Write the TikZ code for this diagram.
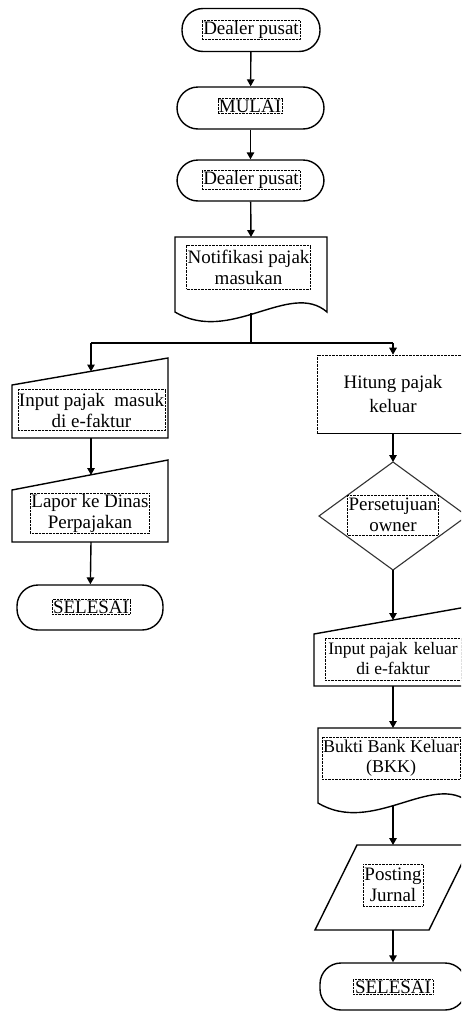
\documentclass[tikz,border=0pt]{standalone}
\usepackage{fontspec}
\setmainfont{Liberation Serif}
\usetikzlibrary{arrows.meta}
\tikzset{
  shp/.style={draw=black, line width=1.4pt},
  term/.style={shp, rounded corners=21pt, minimum height=43pt, inner sep=0pt},
  tbox/.style={draw=black, line width=0.6pt, dash pattern=on 0.7pt off 0.7pt, inner sep=1pt, align=center,
    font=\fontsize{19}{21}\selectfont},
  arr/.style={line width=1.4pt, -{Triangle[length=7pt,width=7.5pt]}},
  ln/.style={line width=1.4pt}
}
\begin{document}
\begin{tikzpicture}[x=1pt,y=-1pt]
\useasboundingbox (0,0) rectangle (461,1012);
\clip (0,0) rectangle (461,1012);
\fill[white] (0,0) rectangle (461,1012);

% top column
\node[term, minimum width=138pt] (t1) at (251,30) {};
\node[tbox, minimum width=98pt] (t1t) at (251,30) {Dealer pusat};
\node[term, minimum width=147pt, minimum height=42pt] (mulai) at (250.5,108) {};
\node[tbox, minimum width=63pt] (mulait) at (250,106) {MULAI};
\node[term, minimum width=147pt, minimum height=41pt] (d2) at (250.5,180.5) {};
\node[tbox, minimum width=98pt] (d2t) at (251,180) {Dealer pusat};

% document 1
\draw[shp] (175,237) -- (327,237) -- (327,312)
  .. controls (290,280) and (230,345) .. (175,312) -- cycle;
\coordinate (doc1top) at (251,237);
\coordinate (doc1bot) at (251,313);
\node[tbox, minimum width=123pt, minimum height=44pt] (doc1t) at (248.5,267) {Notifikasi pajak\\masukan};

\draw[arr] (t1) -- (mulai);
\draw[arr] (mulai) -- (d2);
\draw[arr] (d2) -- (doc1top);

% split
\coordinate (j) at (251,343);
\coordinate (jl) at (91,343);
\coordinate (jr) at (393,343);
\draw[ln] (doc1bot) -- (j);
\draw[ln] (jl) -- (jr);

% left column
\draw[shp] (12,385) -- (168,358) -- (168,438) -- (12,438) -- cycle;
\coordinate (in1top) at (91,371.5);
\coordinate (in1bot) at (91,438);
\node[tbox, minimum width=143pt, minimum height=41pt] (in1t) at (91.5,410) {Input pajak\ \ masuk\\di e-faktur};

\draw[shp] (12,490) -- (168,460) -- (168,542) -- (12,542) -- cycle;
\coordinate (laptop) at (91,475);
\coordinate (lapbot) at (91,542);
\node[tbox, minimum width=116pt, minimum height=40pt] (lapt) at (90,513) {Lapor ke Dinas\\Perpajakan};

\node[term, minimum width=146pt, minimum height=45pt] (sel1) at (90,607.5) {};
\node[tbox, minimum width=78pt] (sel1t) at (91,607) {SELESAI};

\draw[arr] (jl) -- (in1top);
\draw[arr] (in1bot) -- (laptop);
\draw[arr] (lapbot) -- (sel1);

% right column
\node[tbox, minimum width=152pt, minimum height=78pt] (hit) at (393,394) {Hitung pajak\\[3pt]keluar};
\draw[shp] (hit.south west) -- (hit.south east);
\draw[arr] (jr) -- (hit);

\draw[draw=black!80, line width=1.1pt] (393,462) -- (467,516) -- (393,570) -- (319,516) -- cycle;
\coordinate (dtop) at (393,462);
\coordinate (dbot) at (393,570);
\node[tbox, minimum width=90pt, minimum height=40pt] (dt) at (393,515) {Persetujuan\\owner};
\draw[arr] (hit) -- (dtop);

\draw[shp] (314,634) -- (472,606) -- (472,686) -- (314,686) -- cycle;
\coordinate (in2top) at (393,620);
\coordinate (in2bot) at (393,686);
\node[tbox, minimum width=136pt, minimum height=42pt, font=\fontsize{17.5}{20}\selectfont] (in2t) at (393,659) {Input pajak\hspace{2pt} keluar\\di e-faktur};
\draw[arr] (dbot) -- (in2top);

\draw[shp] (318,728) -- (470,728) -- (470,803)
  .. controls (433,771) and (373,836) .. (318,803) -- cycle;
\coordinate (doc2top) at (393,728);
\coordinate (doc2bot) at (393,806);
\node[tbox, minimum width=138pt, minimum height=42pt, font=\fontsize{18}{20}\selectfont] (doc2t) at (391,758) {Bukti Bank Keluar\\(BKK)};
\draw[arr] (in2bot) -- (doc2top);

\draw[shp] (357,845) -- (471,845) -- (429,930) -- (315,930) -- cycle;
\coordinate (ptop) at (393,845);
\coordinate (pbot) at (393,930);
\node[tbox, minimum width=60pt, minimum height=42pt] (pt) at (393,885) {Posting\\Jurnal};
\draw[arr] (doc2bot) -- (ptop);

\node[term, minimum width=146pt, minimum height=47pt] (sel2) at (393,986.5) {};
\node[tbox, minimum width=80pt] (sel2t) at (393,987) {SELESAI};
\draw[arr] (pbot) -- (sel2);
\end{tikzpicture}
\end{document}
